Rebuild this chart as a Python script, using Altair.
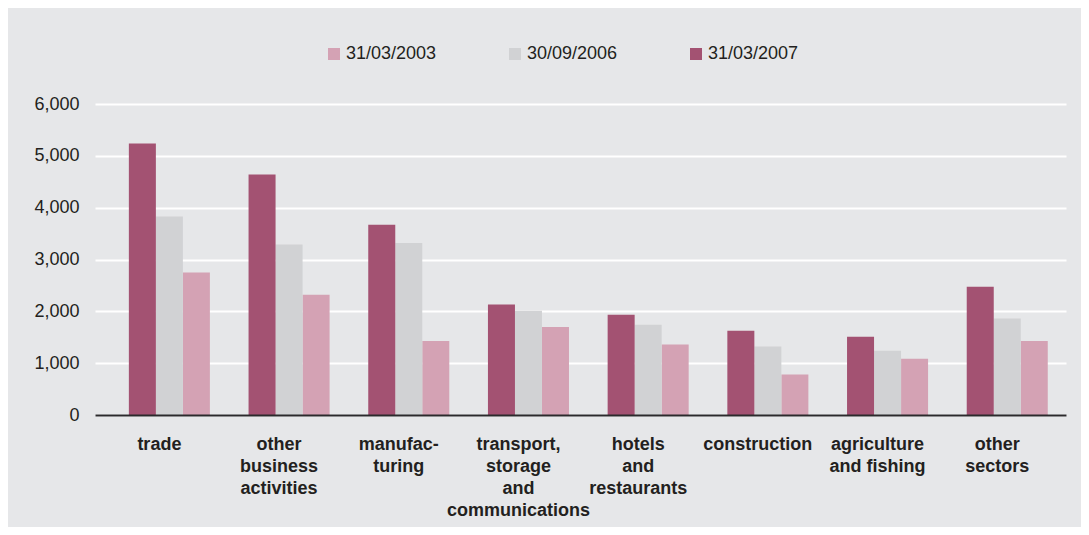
import altair as alt
import pandas as pd

categories = [
    "trade",
    "other\nbusiness\nactivities",
    "manufac-\nturing",
    "transport,\nstorage\nand\ncommunications",
    "hotels\nand\nrestaurants",
    "construction",
    "agriculture\nand fishing",
    "other\nsectors",
]
series = ["31/03/2003", "30/09/2006", "31/03/2007"]
v2003 = [2750, 2320, 1430, 1700, 1360, 780, 1085, 1430]
v2006 = [3830, 3290, 3320, 2010, 1740, 1320, 1240, 1860]
v2007 = [5240, 4640, 3670, 2130, 1935, 1625, 1510, 2475]
colors = ["#d4a2b4", "#d1d2d4", "#a35272"]
yticks = [0, 1000, 2000, 3000, 4000, 5000, 6000]

rows = []
for s, vals in zip(series, [v2003, v2006, v2007]):
    for c, v in zip(categories, vals):
        rows.append({"sector": c, "date": s, "value": v})
df = pd.DataFrame(rows)

FONT = "Liberation Sans"
TXT = "#231f20"

chart = alt.Chart(df).mark_bar().encode(
    x=alt.X(
        "sector:N",
        sort=categories,
        scale=alt.Scale(paddingInner=0.323, paddingOuter=0.2176, align=0.65),
        axis=alt.Axis(
            title=None, labelAngle=0,
            labelExpr="split(datum.label, '\\n')",
            labelFont=FONT, labelFontSize=18, labelFontWeight="bold",
            labelColor=TXT, labelPadding=20, labelLineHeight=22,
            labelOffset=-10, labelLimit=300,
            ticks=False, domainColor="#2b2a2c", domainWidth=2,
            grid=False, zindex=1,
        ),
    ),
    xOffset=alt.XOffset(
        "date:N", sort=series[::-1],
        scale=alt.Scale(paddingInner=0, paddingOuter=0),
    ),
    y=alt.Y(
        "value:Q",
        scale=alt.Scale(domain=[0, 6000]),
        axis=alt.Axis(
            title=None, values=yticks, format=",.0f",
            grid=True, gridColor="#ffffff", gridWidth=2,
            domain=False, ticks=False, labelPadding=16,
            labelFont=FONT, labelFontSize=18, labelColor=TXT,
        ),
    ),
    color=alt.Color(
        "date:N",
        sort=series,
        scale=alt.Scale(domain=series, range=colors),
        legend=alt.Legend(
            title=None, orient="none", direction="horizontal",
            legendX=230, legendY=-59, padding=0,
            symbolType="square", symbolSize=144, symbolStrokeWidth=0,
            labelFont=FONT, labelFontSize=18, labelColor=TXT,
            labelOffset=3, columnPadding=69,
        ),
    ),
).properties(
    width=971,
    height=311,
    autosize=alt.AutoSizeParams(type="none"),
    padding={"left": 87, "top": 96, "right": 15, "bottom": 112},
    background="#e6e7e9",
).configure_view(stroke="transparent")

chart.save("out.html", embed_options={"renderer": "svg", "actions": False})
